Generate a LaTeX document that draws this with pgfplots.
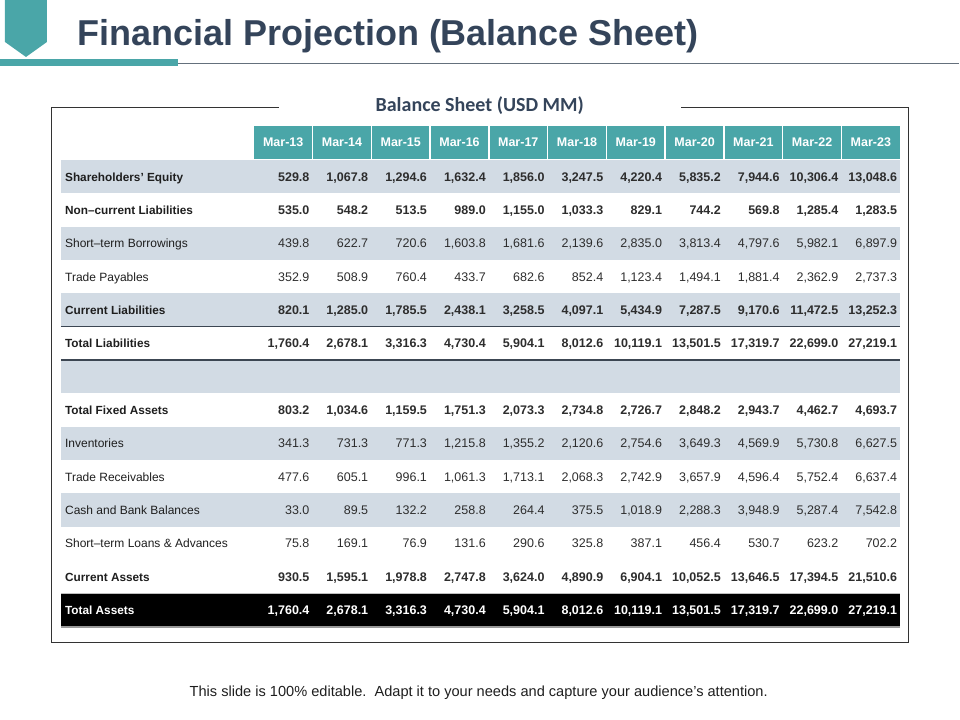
\documentclass[border=0pt]{standalone}
\usepackage{pgfplots}
\usepackage{pgfplotstable}
\pgfplotsset{compat=1.18}
\usepackage{fontspec}
\setmainfont{Liberation Sans}
\newfontfamily\carlito{Carlito}
\definecolor{teal1}{RGB}{74,166,168}
\definecolor{slate}{RGB}{52,68,90}
\definecolor{band}{RGB}{210,219,228}
\definecolor{txt}{RGB}{30,30,30}
\definecolor{num}{RGB}{45,45,45}

\pgfplotstableread{
y m13 m14 m15 m16 m17 m18 m19 m20 m21 m22 m23
176.8 529.8 1067.8 1294.6 1632.4 1856.0 3247.5 4220.4 5835.2 7944.6 10306.4 13048.6
210.2 535.0 548.2 513.5 989.0 1155.0 1033.3 829.1 744.2 569.8 1285.4 1283.5
310.2 820.1 1285.0 1785.5 2438.1 3258.5 4097.1 5434.9 7287.5 9170.6 11472.5 13252.3
343.6 1760.4 2678.1 3316.3 4730.4 5904.1 8012.6 10119.1 13501.5 17319.7 22699.0 27219.1
410.3 803.2 1034.6 1159.5 1751.3 2073.3 2734.8 2726.7 2848.2 2943.7 4462.7 4693.7
577.0 930.5 1595.1 1978.8 2747.8 3624.0 4890.9 6904.1 10052.5 13646.5 17394.5 21510.6
}\boldrows
\pgfplotstableread{
y m13 m14 m15 m16 m17 m18 m19 m20 m21 m22 m23
243.5 439.8 622.7 720.6 1603.8 1681.6 2139.6 2835.0 3813.4 4797.6 5982.1 6897.9
276.9 352.9 508.9 760.4 433.7 682.6 852.4 1123.4 1494.1 1881.4 2362.9 2737.3
443.6 341.3 731.3 771.3 1215.8 1355.2 2120.6 2754.6 3649.3 4569.9 5730.8 6627.5
477.0 477.6 605.1 996.1 1061.3 1713.1 2068.3 2742.9 3657.9 4596.4 5752.4 6637.4
510.3 33.0 89.5 132.2 258.8 264.4 375.5 1018.9 2288.3 3948.9 5287.4 7542.8
543.7 75.8 169.1 76.9 131.6 290.6 325.8 387.1 456.4 530.7 623.2 702.2
}\normalrows
\pgfplotstableread{
y m13 m14 m15 m16 m17 m18 m19 m20 m21 m22 m23
610.4 1760.4 2678.1 3316.3 4730.4 5904.1 8012.6 10119.1 13501.5 17319.7 22699.0 27219.1
}\totalrow

\newcommand{\numfmt}{\pgfmathprintnumber[fixed,fixed zerofill,precision=1,1000 sep={,},assume math mode=true]{\pgfplotspointmeta}}

\begin{document}
\begin{tikzpicture}
\path (0,0) rectangle (960pt,720pt);
\begin{scope}[x=1pt,y=-1pt,shift={(0,720pt)}]
  % title decoration
  \fill[teal1] (5,0) -- (47,0) -- (47,42) -- (26,57) -- (5,42) -- cycle;
  \fill[teal1] (0,59.5) rectangle (178,66);
  \draw[line width=1.2pt, color={rgb,255:red,100;green,112;blue,124}] (178,63.5) -- (960,63.5);
  \node[anchor=base west, inner sep=0pt, text=slate, font=\fontsize{36}{40}\selectfont\bfseries] at (77,46) {Financial Projection (Balance Sheet)};
  % frame
  \draw[line width=1pt, black!80] (279,108) -- (52,108) -- (52,643) -- (909,643) -- (909,108) -- (681,108);
  \node[anchor=base, inner sep=0pt, text=slate, font=\carlito\fontsize{20}{24}\selectfont\bfseries] at (480,112) {Balance Sheet (USD MM)};
  % header
  \fill[teal1] (254,126) rectangle (900.8,159);
  \foreach \i in {1,...,10} {\draw[white, line width=1.5pt] ({254+58.8*\i},126) -- ({254+58.8*\i},159);}
  \foreach \i [count=\k from 0] in {13,...,23} {\node[anchor=base, inner sep=0pt, text=white, font=\fontsize{12.5}{15}\selectfont\bfseries] at ({254+58.8*\k+29.4},147) {Mar-\i};}
  % bands
  \foreach \yc in {176.8,243.5,310.2,376.9,443.6,510.3} {\fill[band] (61,{\yc-16.6}) rectangle (900.8,{\yc+16.6});}
  \fill[black] (61,593.8) rectangle (900.8,627);
  \draw[line width=1.3pt, color={rgb,255:red,60;green,70;blue,82}] (61,326.9) -- (900.8,326.9);
  \draw[line width=1.3pt, color={rgb,255:red,60;green,70;blue,82}] (61,360.2) -- (900.8,360.2);
  \draw[line width=1pt, black!25] (61,593.5) -- (900.8,593.5);
  \draw[line width=1.5pt, black!40] (61,627.5) -- (900.8,627.5);
  % labels
  \tikzset{lab/.style={anchor=base west, inner sep=0pt, text=txt, font=\fontsize{12}{14}\selectfont}}
  \node[lab, font=\fontsize{11.8}{14}\selectfont\bfseries] at (65,181.3) {Shareholders' Equity};
  \node[lab, font=\fontsize{11.8}{14}\selectfont\bfseries] at (65,214.7) {Non--current Liabilities};
  \node[lab] at (65,248.0) {Short--term Borrowings};
  \node[lab] at (65,281.4) {Trade Payables};
  \node[lab, font=\fontsize{11.8}{14}\selectfont\bfseries] at (65,314.7) {Current Liabilities};
  \node[lab, font=\fontsize{11.8}{14}\selectfont\bfseries] at (65,348.1) {Total Liabilities};
  \node[lab, font=\fontsize{11.8}{14}\selectfont\bfseries] at (65,414.8) {Total Fixed Assets};
  \node[lab] at (65,448.1) {Inventories};
  \node[lab] at (65,481.5) {Trade Receivables};
  \node[lab] at (65,514.8) {Cash and Bank Balances};
  \node[lab] at (65,548.2) {Short--term Loans \& Advances};
  \node[lab, font=\fontsize{11.8}{14}\selectfont\bfseries] at (65,581.5) {Current Assets};
  \node[lab, text=white, font=\fontsize{11.8}{14}\selectfont\bfseries] at (65,614.9) {Total Assets};
  % footer
  \node[anchor=base, inner sep=0pt, text=txt, font=\fontsize{14.6}{16}\selectfont] at (479,697) {This slide is 100\% editable.\ \ Adapt it to your needs and capture your audience\char"27 s attention.};
\end{scope}
\begin{axis}[
  at={(0,0)}, anchor=south west,
  width=960pt, height=720pt, scale only axis,
  xmin=0, xmax=960, ymin=0, ymax=720, y dir=reverse,
  hide axis, clip=false,
]
\pgfplotsinvokeforeach{13,14,15,16,17,18,19,20,21,22,23}{
  \addplot[only marks, mark=none, point meta=explicit,
    nodes near coords={\numfmt},
    every node near coord/.append style={anchor=base east, inner sep=0pt, text=num, yshift=-4.5pt, font=\fontsize{12.5}{15}\selectfont\bfseries}]
    table[x expr={254+58.8*(#1-12)-3}, y=y, meta=m#1]{\boldrows};
  \addplot[only marks, mark=none, point meta=explicit,
    nodes near coords={\numfmt},
    every node near coord/.append style={anchor=base east, inner sep=0pt, text=num, yshift=-4.5pt, font=\fontsize{12.5}{15}\selectfont}]
    table[x expr={254+58.8*(#1-12)-3}, y=y, meta=m#1]{\normalrows};
  \addplot[only marks, mark=none, point meta=explicit,
    nodes near coords={\numfmt},
    every node near coord/.append style={anchor=base east, inner sep=0pt, text=white, yshift=-4.5pt, font=\fontsize{12.5}{15}\selectfont\bfseries}]
    table[x expr={254+58.8*(#1-12)-3}, y=y, meta=m#1]{\totalrow};
}
\end{axis}
\end{tikzpicture}
\end{document}
